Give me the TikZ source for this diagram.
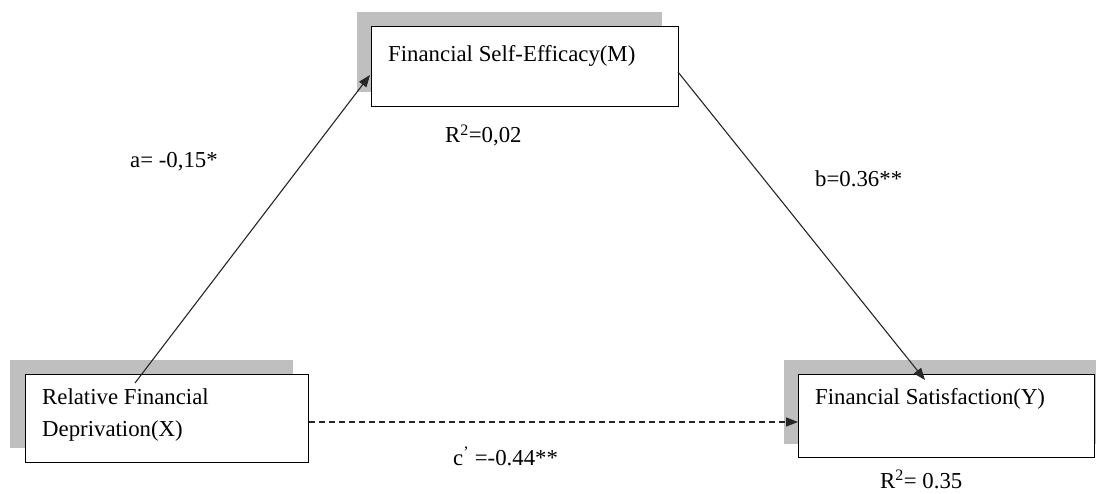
\documentclass[tikz,border=0pt]{standalone}
\usepackage{fontspec}
\setmainfont{Liberation Serif}
\usetikzlibrary{arrows.meta}
\begin{document}
\begin{tikzpicture}[x=1pt,y=-1pt,
  shadowbox/.style={fill=black!25, draw=none},
  mainbox/.style={draw=black, line width=1.2pt, fill=white, anchor=north west, inner sep=0pt},
  lbl/.style={font=\fontsize{22.8}{26}\selectfont, inner sep=0pt, anchor=base west},
  boxtxt/.style={font=\fontsize{22.8}{31}\selectfont, inner sep=0pt, anchor=base west, align=left},
  arr/.style={line width=1.1pt, draw=black!85, -{Triangle[length=12pt,width=9pt]}}
]
\useasboundingbox (0,0) rectangle (1096,494);
% shadows
\fill[shadowbox] (357,12) rectangle (662,92);
\fill[shadowbox] (10,360) rectangle (293,448);
\fill[shadowbox] (784,360) rectangle (1096,444);
% boxes
\node[mainbox, minimum width=307pt, minimum height=80pt] (M) at (371,26) {};
\node[mainbox, minimum width=283pt, minimum height=88pt] (X) at (25,374) {};
\node[mainbox, minimum width=296pt, minimum height=83pt] (Y) at (798,374) {};
% box texts
\node[boxtxt] (Mt) at (388,62) {Financial Self-Efficacy(M)};
\node[boxtxt] (Xt) at (42,405) {Relative Financial};
\node[boxtxt] (Xt2) at (42,436) {Deprivation(X)};
\node[boxtxt] (Yt) at (815,405) {Financial Satisfaction(Y)};
% connector end points
\coordinate (as) at (135,383);
\coordinate (ae) at (370,75);
\coordinate (bs) at (678,72);
\coordinate (be) at (925,380);
% arrows
\draw[arr] (as) -- (ae);
\draw[arr] (bs) -- (be);
\draw[arr, dashed, dash pattern=on 6pt off 4pt] (X.east |- 0,422) -- (Y.west |- 0,422);
% labels
\node[lbl] (la) at (130,168) {a= -0,15*};
\node[lbl] (lb) at (815,187) {b=0.36**};
\node[lbl] (lc) at (453,465) {c\textsuperscript{'} =-0.44**};
\node[lbl] (r1) at (445,143) {R\textsuperscript{2}=0,02};
\node[lbl] (r2) at (880,488) {R\textsuperscript{2}= 0.35};
\end{tikzpicture}
\end{document}
